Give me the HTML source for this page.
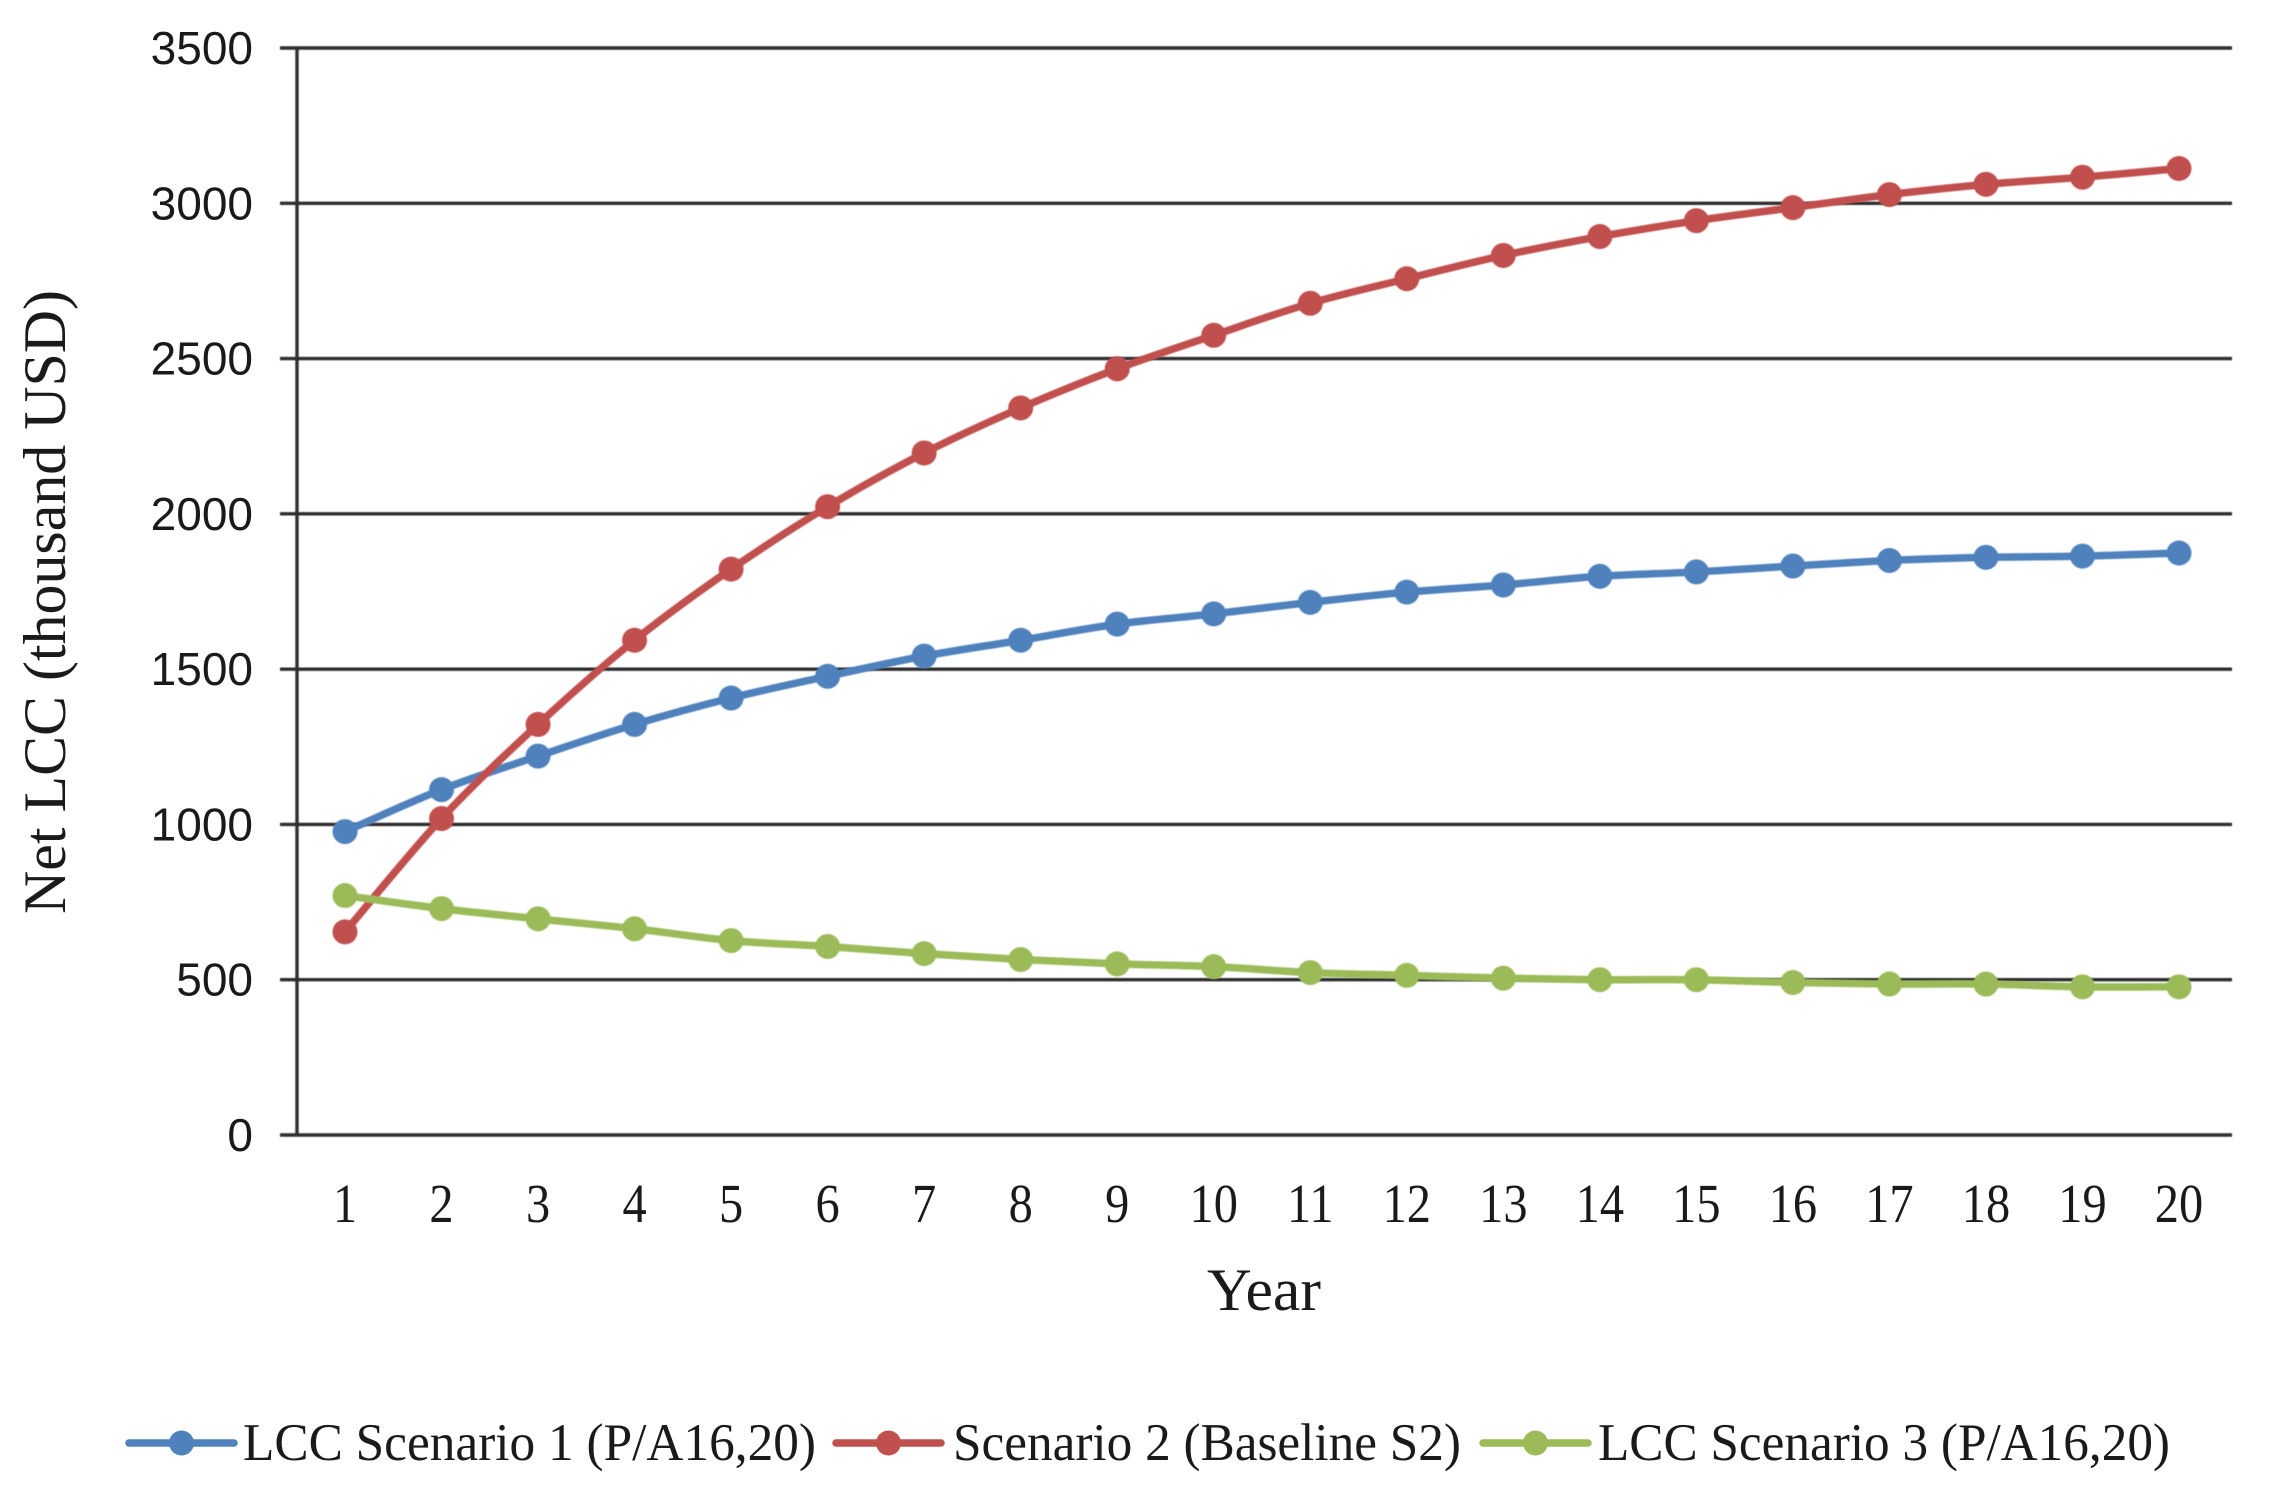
<!DOCTYPE html>
<html lang="en">
<head>
<meta charset="utf-8">
<title>Net LCC by Year</title>
<style>
html,body{margin:0;padding:0;background:#fff;}
body{width:2273px;height:1495px;overflow:hidden;}
svg{display:block;}
text{fill:#1a1a1a;}
.serif{font-family:"Liberation Serif",serif;}
.sans{font-family:"Liberation Sans",sans-serif;}
</style>
</head>
<body>
<svg id="chart" xmlns="http://www.w3.org/2000/svg" width="2273" height="1495" viewBox="0 0 2273 1495">
  <defs>
    <filter id="soft" x="-2%" y="-2%" width="104%" height="104%"><feGaussianBlur stdDeviation="0.6"/></filter>
  </defs>
  <g id="grid" filter="url(#soft)"></g>
  <g id="yticks"></g>
  <g id="xticks"></g>
  <g id="series" filter="url(#soft)"></g>
  <text class="serif" font-size="60" text-anchor="middle" textLength="624" lengthAdjust="spacingAndGlyphs" transform="translate(65,602) rotate(-90)">Net LCC (thousand USD)</text>
  <text class="serif" font-size="60" x="1207" y="1310" textLength="114" lengthAdjust="spacingAndGlyphs">Year</text>
  <g id="legend"></g>
</svg>
<script>
const categories = ["1","2","3","4","5","6","7","8","9","10","11","12","13","14","15","16","17","18","19","20"];
const yTickValues = [0,500,1000,1500,2000,2500,3000,3500];
const scenario1Values = [977,1112,1220,1322,1407,1477,1542,1593,1645,1678,1715,1748,1771,1799,1813,1832,1850,1860,1864,1874];
const scenario2Values = [654,1019,1322,1593,1822,2023,2196,2341,2467,2575,2678,2757,2832,2893,2944,2986,3028,3061,3084,3112];
const scenario3Values = [771,729,696,664,626,607,584,565,551,542,523,514,505,500,500,491,486,486,477,477];
const seriesLabels = ["LCC Scenario 1 (P/A16,20)","Scenario 2 (Baseline S2)","LCC Scenario 3 (P/A16,20)"];

const NS = "http://www.w3.org/2000/svg";
const plotLeft = 297, plotRight = 2232, plotBottom = 1135, plotTop = 48, tickLeft = 280;
const yMax = 3500;
const firstX = 345, lastX = 2179;
const axisColor = "#2e2e2e";
const xLabelSquash = 0.88;

function xScale(i){ return firstX + i * (lastX - firstX) / (categories.length - 1); }
function yScale(v){ return plotBottom - v * (plotBottom - plotTop) / yMax; }
function mk(tag, attrs, parent){
  const el = document.createElementNS(NS, tag);
  for (const k in attrs) el.setAttribute(k, attrs[k]);
  parent.appendChild(el);
  return el;
}
function smoothPath(values){
  const p = values.map(function(v, i){ return [xScale(i), yScale(v)]; });
  let d = "M" + p[0][0] + " " + p[0][1];
  for (let i = 0; i < p.length - 1; i++){
    const a = p[Math.max(i - 1, 0)], b = p[i], c = p[i + 1], e = p[Math.min(i + 2, p.length - 1)];
    const c1x = b[0] + (c[0] - a[0]) / 6, c1y = b[1] + (c[1] - a[1]) / 6;
    const c2x = c[0] - (e[0] - b[0]) / 6, c2y = c[1] - (e[1] - b[1]) / 6;
    d += "C" + c1x + " " + c1y + " " + c2x + " " + c2y + " " + c[0] + " " + c[1];
  }
  return d;
}

const gridG = document.getElementById("grid");
const yG = document.getElementById("yticks");
const xG = document.getElementById("xticks");
const seriesG = document.getElementById("series");
const legendG = document.getElementById("legend");

yTickValues.forEach(function(v){
  const line = mk("line", {x1:tickLeft, x2:plotRight, y1:yScale(v), y2:yScale(v), stroke:axisColor, "stroke-width":3.4}, gridG);
  
  
  const label = mk("text", {x:253, y:yScale(v) + 16, "text-anchor":"end", "font-size":46, class:"sans"}, yG);
  label.textContent = String(v);
  
  
});

const yAxisLine = mk("line", {x1:plotLeft, x2:plotLeft, y1:plotTop, y2:plotBottom, stroke:axisColor, "stroke-width":3.4}, gridG);



categories.forEach(function(c, i){
  const label = mk("text", {x:xScale(i), y:1222, "text-anchor":"middle", "font-size":55, class:"serif", transform:"translate(" + xScale(i) * (1 - xLabelSquash) + ",0) scale(" + xLabelSquash + ",1)"}, xG);
  label.textContent = c;
  
  
});

const allSeries = [
  {key:"scenario-1", values:scenario1Values, color:"#4f81bd"},
  {key:"scenario-2", values:scenario2Values, color:"#c0504d"},
  {key:"scenario-3", values:scenario3Values, color:"#9bbb59"}
];

allSeries.forEach(function(s){
  const line = mk("path", {d:smoothPath(s.values), fill:"none", stroke:s.color, "stroke-width":7.5, "stroke-linejoin":"round"}, seriesG);
  
  
  s.values.forEach(function(v, i){
    const dot = mk("circle", {cx:xScale(i), cy:yScale(v), r:12.5, fill:s.color}, seriesG);
    
    
  });
});

const legendLayout = [
  {x1:129, x2:234, tx:243, tw:573},
  {x1:836, x2:941, tx:953, tw:508},
  {x1:1483, x2:1588, tx:1598, tw:572}
];
legendLayout.forEach(function(p, i){
  const s = allSeries[i];
  const key = mk("line", {x1:p.x1, x2:p.x2, y1:1443, y2:1443, stroke:s.color, "stroke-width":7.5, "stroke-linecap":"round"}, legendG);
  
  
  const dot = mk("circle", {cx:(p.x1 + p.x2) / 2, cy:1443, r:12.5, fill:s.color}, legendG);
  
  
  const label = mk("text", {x:p.tx, y:1460, "font-size":53, class:"serif", textLength:p.tw, lengthAdjust:"spacingAndGlyphs"}, legendG);
  label.textContent = seriesLabels[i];
  
  
});
</script>
</body>
</html>
